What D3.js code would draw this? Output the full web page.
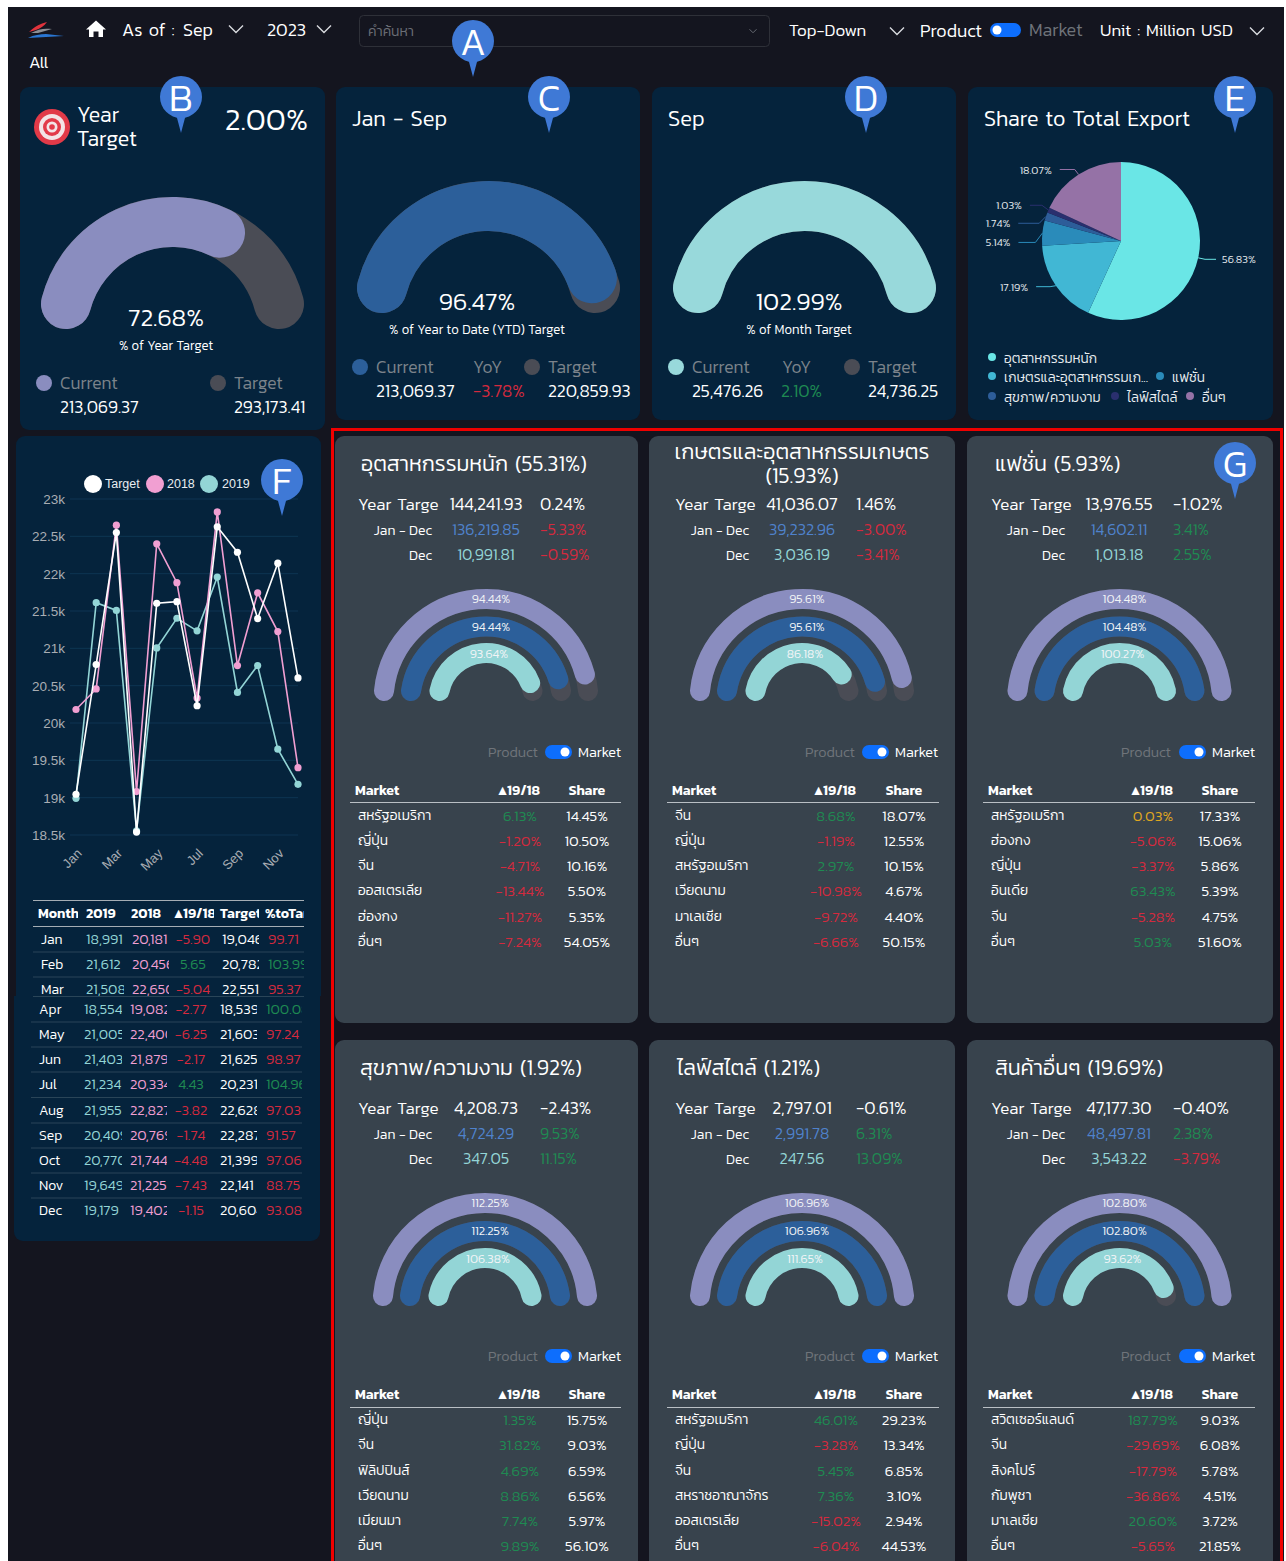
<!DOCTYPE html>
<html><head><meta charset="utf-8"><script src="https://cdn.jsdelivr.net/npm/d3@7/dist/d3.min.js"></script>
<style>html,body{margin:0;padding:0;background:#fff;width:1286px;height:1561px;overflow:hidden}svg{display:block}text{font-family:Kanit,Prompt,Roboto,"Noto Sans Thai","Noto Sans",sans-serif;dominant-baseline:central}</style></head><body><div id="c"></div>
<script>
// ---------- data ----------
const months=["Jan","Feb","Mar","Apr","May","Jun","Jul","Aug","Sep","Oct","Nov","Dec"];
const v2019=[18991,21612,21508,18554,21005,21403,21234,21955,20409,20770,19649,19179];
const v2018=[20181,20456,22650,19082,22400,21879,20334,22827,20769,21744,21225,19402];
const vTarget=[19046,20782,22551,18539,21603,21625,20231,22628,22287,21399,22141,20604];
const diffPct=[-5.90,5.65,-5.04,-2.77,-6.25,-2.17,4.43,-3.82,-1.74,-4.48,-7.43,-1.15];
const toTarget=[99.71,103.99,95.37,100.08,97.24,98.97,104.96,97.03,91.57,97.06,88.75,93.08];
const yTicks=[18500,19000,19500,20000,20500,21000,21500,22000,22500,23000];
const xTicks=["Jan","Mar","May","Jul","Sep","Nov"];
const pieNames=["อุตสาหกรรมหนัก","เกษตรและอุตสาหกรรมเก...","แฟชั่น","สุขภาพ/ความงาม","ไลฟ์สไตล์","อื่นๆ"];
const pieValues=[56.83,17.19,5.14,1.74,1.03,18.07];
const pieColors=["#6ae6e6","#41b7d4","#2a8bba","#2d5d99","#2a2f6e","#9572a6"];
const pieLabelNudge=[0,-3,10,9,-2,1];
const pieLabelReach=[11,14,17,21,12,15];
const cardTitles=[["อุตสาหกรรมหนัก (55.31%)"],["เกษตรและอุตสาหกรรมเกษตร","(15.93%)"],["แฟชั่น (5.93%)"],["สุขภาพ/ความงาม (1.92%)"],["ไลฟ์สไตล์ (1.21%)"],["สินค้าอื่นๆ (19.69%)"]];
const yearTarget=["144,241.93","41,036.07","13,976.55","4,208.73","2,797.01","47,177.30"];
const yearPct=[0.24,1.46,-1.02,-2.43,-0.61,-0.40];
const ytdVal=["136,219.85","39,232.96","14,602.11","4,724.29","2,991.78","48,497.81"];
const ytdPct=[-5.33,-3.00,3.41,9.53,6.31,2.38];
const monVal=["10,991.81","3,036.19","1,013.18","347.05","247.56","3,543.22"];
const monPct=[-0.59,-3.41,2.55,11.15,13.09,-3.79];
const ringOuter=[94.44,95.61,104.48,112.25,106.96,102.80];
const ringMiddle=[94.44,95.61,104.48,112.25,106.96,102.80];
const ringInner=[93.64,86.18,100.27,106.38,111.65,93.62];
const marketNames=[["สหรัฐอเมริกา","ญี่ปุ่น","จีน","ออสเตรเลีย","ฮ่องกง","อื่นๆ"],["จีน","ญี่ปุ่น","สหรัฐอเมริกา","เวียดนาม","มาเลเซีย","อื่นๆ"],["สหรัฐอเมริกา","ฮ่องกง","ญี่ปุ่น","อินเดีย","จีน","อื่นๆ"],["ญี่ปุ่น","จีน","ฟิลิปปินส์","เวียดนาม","เมียนมา","อื่นๆ"],["สหรัฐอเมริกา","ญี่ปุ่น","จีน","สหราชอาณาจักร","ออสเตรเลีย","อื่นๆ"],["สวิตเซอร์แลนด์","จีน","สิงคโปร์","กัมพูชา","มาเลเซีย","อื่นๆ"]];
const marketDiff=[[6.13,-1.20,-4.71,-13.44,-11.27,-7.24],[8.68,-1.19,2.97,-10.98,-9.72,-6.66],[0.03,-5.06,-3.37,63.43,-5.28,5.03],[1.35,31.82,4.69,8.86,7.74,9.89],[46.01,-3.28,5.45,7.36,-15.02,-6.04],[187.79,-29.69,-17.79,-36.86,20.60,-5.65]];
const marketShare=[[14.45,10.50,10.16,5.50,5.35,54.05],[18.07,12.55,10.15,4.67,4.40,50.15],[17.33,15.06,5.86,5.39,4.75,51.60],[15.75,9.03,6.59,6.56,5.97,56.10],[29.23,13.34,6.85,3.10,2.94,44.53],[9.03,6.08,5.78,4.51,3.72,21.85]];
const gaugeFill=[67,96.47,102.99];
const gaugeLabels=["72.68%","96.47%","102.99%"];

// ---------- colours ----------
const BG="#14151f",DARK="#05233c",GREY="#38434d",RED="#d42a3e",GREEN="#1f8a52",TEAL="#93d5d6",PINK="#f19fd2",PURPLE="#8a8dbf",BLUE="#2c5f9a",TRACK="#4a4c55",MUTED="#7c838b";
const svg=d3.select("#c").append("svg").attr("width",1286).attr("height",1561);
const defs=svg.append("defs");
function T(x,y,s,o={}){const sz=o.size||14;const t=(o.g||svg).append("text").attr("x",x).attr("y",sz>=15.5?y-1:y).text(s).attr("font-size",sz).attr("word-spacing",sz>=16?2:0.3).attr("fill",o.fill||"#fff").attr("text-anchor",o.anchor||"start").attr("font-weight",o.weight||300);if(o.clip)t.attr("clip-path",`url(#${o.clip})`);return t;}
function R(x,y,w,h,f,r=0){return svg.append("rect").attr("x",x).attr("y",y).attr("width",w).attr("height",h).attr("fill",f).attr("rx",r);}
function chev(x,y,s=7,c="#d8dade",sw=1.4){svg.append("path").attr("d",d3.line()([[x-s,y-s*0.5],[x,y+s*0.5],[x+s,y-s*0.5]])).attr("fill","none").attr("stroke",c).attr("stroke-width",sw);}
function pctColor(v){return v>0.5?GREEN:(v<0?RED:"#e0a81f");}
function pct(v){return v.toFixed(2)+"%";}
function toggle(x,y,w,h,right){R(x,y,w,h,"#0d6efd",h/2);svg.append("circle").attr("cx",right?x+w-h/2:x+h/2).attr("cy",y+h/2).attr("r",h/2-2.5).attr("fill","#fff");}

// arc through top & bottom extents, rounded caps
function gauge(cx,W,w,top,bottom,val,col){
  const H=bottom-top-w,A=W-w/2,Rd=(A*A+H*H)/(2*H),th=Math.atan2(A,Rd-H),cy=top+w/2+Rd;
  const ang=d3.scaleLinear().domain([0,100]).range([-th,th]).clamp(true);
  const draw=(a0,a1,c)=>{const p=d3.path();p.arc(cx,cy,Rd,a0-Math.PI/2,a1-Math.PI/2);svg.append("path").attr("d",p.toString()).attr("fill","none").attr("stroke",c).attr("stroke-width",w).attr("stroke-linecap","round");};
  draw(ang(0),ang(100),TRACK);draw(ang(0),ang(val),col);
}
function pin(x,y,l){svg.append("path").attr("d",d3.line()([[x-4.5,y+19],[x,y+36],[x+4.5,y+19]])).attr("fill","#3f79d6");svg.append("circle").attr("cx",x).attr("cy",y).attr("r",21).attr("fill","#3f79d6");T(x,y+1,l,{size:38,anchor:"middle",weight:300});}

// ---------- frame ----------
R(8,7,1276,1554,BG);
// header
const logo=svg.append("g");
logo.append("path").attr("d","M29 32 C35 26 40 24 47 22 C44 26 41 28 36 30 Z").attr("fill","#e0333c");
logo.append("path").attr("d","M31 33 C38 29 44 28 52 29 L38 33 Z").attr("fill","#8d8f95");
logo.append("path").attr("d","M28 38 C34 35 40 34 46 34 L64 36 C52 37 40 37 28 38 Z").attr("fill","#2a76d2");
svg.append("path").attr("d","M96 20.5 L106 29.5 L103 29.5 L103 37 L98.5 37 L98.5 31.5 L93.5 31.5 L93.5 37 L89 37 L89 29.5 L86 29.5 Z").attr("fill","#fff");
T(122,30,"As of :",{size:18});T(183,30,"Sep",{size:18});chev(236,29);T(267,30,"2023",{size:18});chev(324,29);
svg.append("rect").attr("x",359.5).attr("y",15.5).attr("width",410).attr("height",31).attr("rx",4).attr("fill","none").attr("stroke","#2e3038");
T(368,31,"คำค้นหา",{size:14,fill:"#6b6e76"});chev(753,31,3.5,"#666a72",1);
T(789,31,"Top-Down",{size:17});chev(897,31);T(920,31,"Product",{size:18});toggle(990,23,31,14,false);T(1029,30,"Market",{size:18,fill:"#6f737a"});T(1100,31,"Unit : Million USD",{size:17});chev(1257,31);
T(29,63,"All",{size:17});

// top cards
R(20,87,305,343,DARK,9);R(336,87,304,333,DARK,9);R(652,87,304,333,DARK,9);R(968,87,305,333,DARK,9);
// target icon
[[18,"#e23a48"],[13,"#f3e4e6"],[9,"#e23a48"],[5.5,"#f3e4e6"],[2.8,"#e23a48"]].forEach(d=>svg.append("circle").attr("cx",52).attr("cy",127).attr("r",d[0]).attr("fill",d[1]));
T(77,115,"Year",{size:21.5});T(77,139,"Target",{size:21.5});T(308,120,"2.00%",{size:31,anchor:"end"});
T(352,119,"Jan - Sep",{size:22});T(668,119,"Sep",{size:22});T(984,119,"Share to Total Export",{size:21.7});
gauge(172.5,131.5,50,197,329,gaugeFill[0],PURPLE);gauge(488.5,131.5,50,181,313,gaugeFill[1],BLUE);gauge(804.5,131.5,50,181,313,gaugeFill[2],"#98d9db");
T(166,318,gaugeLabels[0],{size:25,anchor:"middle"});T(166,345,"% of Year Target",{size:13.2,anchor:"middle"});
T(477,302,gaugeLabels[1],{size:25,anchor:"middle"});T(477,329,"% of Year to Date (YTD) Target",{size:13.2,anchor:"middle"});
T(799,302,gaugeLabels[2],{size:25,anchor:"middle"});T(799,329,"% of Month Target",{size:13.2,anchor:"middle"});
function dot(x,y,c,r=8){svg.append("circle").attr("cx",x).attr("cy",y).attr("r",r).attr("fill",c);}
const LS=17.5;
dot(44,383,PURPLE);dot(218,383,TRACK);T(60,384,"Current",{size:LS,fill:MUTED});T(234,384,"Target",{size:LS,fill:MUTED});T(60,408,"213,069.37",{size:LS});T(234,408,"293,173.41",{size:LS});
dot(360,367,BLUE);dot(532,367,TRACK);T(376,368,"Current",{size:LS,fill:MUTED});T(473,368,"YoY",{size:LS,fill:MUTED});T(548,368,"Target",{size:LS,fill:MUTED});T(376,392,"213,069.37",{size:LS});T(473,392,"-3.78%",{size:LS,fill:RED});T(548,392,"220,859.93",{size:LS});
dot(676,367,"#98d9db");dot(852,367,TRACK);T(692,368,"Current",{size:LS,fill:MUTED});T(782,368,"YoY",{size:LS,fill:MUTED});T(868,368,"Target",{size:LS,fill:MUTED});T(692,392,"25,476.26",{size:LS});T(781,392,"2.10%",{size:LS,fill:GREEN});T(868,392,"24,736.25",{size:LS});

// pie
const pCx=1121,pCy=241,pR=79;
const pieG=svg.append("g").attr("transform",`translate(${pCx},${pCy})`);
const arcs=d3.pie().sort(null)(pieValues);
const pieArc=d3.arc().innerRadius(0).outerRadius(pR);
pieG.selectAll("path").data(arcs).join("path").attr("d",pieArc).attr("fill",(d,i)=>pieColors[i]);
arcs.forEach((d,i)=>{
  const m=(d.startAngle+d.endAngle)/2,sx=Math.sin(m)*pR,sy=-Math.cos(m)*pR,ex=Math.sin(m)*(pR+7),ey=-Math.cos(m)*(pR+7)+pieLabelNudge[i],right=sx>0,hx=ex+(right?1:-1)*pieLabelReach[i];
  pieG.append("path").attr("d",d3.line()([[sx,sy],[ex,ey],[hx,ey]])).attr("fill","none").attr("stroke",pieColors[i]).attr("stroke-width",1);
  T(hx+(right?6:-8),ey,pct(pieValues[i]),{g:pieG,size:11,anchor:right?"start":"end",fill:"#e8edf0"});
});
const pieLegendPos=[[992,357],[992,376],[1160,376],[992,396],[1115,396],[1190,396]];
pieNames.forEach((n,i)=>{dot(pieLegendPos[i][0],pieLegendPos[i][1],i==0?"#6ae6e6":pieColors[i],4);T(pieLegendPos[i][0]+12,pieLegendPos[i][1]+1,n,{size:13.6,fill:"#e8edf0"});});

// F card
R(16,436,305,560,DARK,9);R(16,980,305,16,DARK);R(14,996,306,245,DARK,9);R(14,996,306,20,DARK);
const y=d3.scaleLinear().domain([18500,23000]).range([835,499]);
const x=d3.scalePoint().domain(months).range([76,298]);
svg.append("g").selectAll("line").data(yTicks).join("line").attr("x1",70).attr("x2",298).attr("y1",d=>y(d)).attr("y2",d=>y(d)).attr("stroke","#0e3552");
const yAxis=svg.append("g").attr("transform","translate(65,0)").call(d3.axisLeft(y).tickValues(yTicks).tickSize(0).tickPadding(0).tickFormat(d=>(d/1000)+"k"));
yAxis.select(".domain").remove();yAxis.selectAll("text").attr("font-size",13.5).attr("fill","#a9adb3").attr("dy",0).attr("font-weight",400).style("font-family","'Liberation Sans'");
const xAxis=svg.append("g").attr("transform","translate(0,848)").call(d3.axisBottom(x).tickValues(xTicks).tickSize(0).tickPadding(0));
xAxis.select(".domain").remove();xAxis.selectAll("text").attr("font-size",13).attr("fill","#a9adb3").attr("font-weight",400).attr("text-anchor","end").attr("dy",0).attr("transform","translate(3,3) rotate(-45)").style("font-family","'Liberation Sans'");
const line=d3.line().x((d,i)=>x(months[i])).y(d=>y(d));
[[v2019,TEAL],[v2018,PINK],[vTarget,"#fff"]].forEach(([s,c])=>{
  svg.append("path").attr("d",line(s)).attr("fill","none").attr("stroke",c).attr("stroke-width",1.6);
  svg.append("g").selectAll("circle").data(s).join("circle").attr("cx",(d,i)=>x(months[i])).attr("cy",d=>y(d)).attr("r",3.6).attr("fill",c);
});
[[93,"#fff","Target",105],[155,PINK,"2018",167],[209,TEAL,"2019",222]].forEach(d=>{dot(d[0],484,d[1],9);T(d[3],484,d[2],{size:12.5,weight:400,fill:"#e8edf0"}).style("font-family","'Liberation Sans'");});

// F table
function clip(id,x0,x1){defs.append("clipPath").attr("id",id).append("rect").attr("x",x0).attr("y",880).attr("width",x1-x0).attr("height",360);}
[0,-2].forEach((o,k)=>{clip("cM"+k,30+o,78+o);clip("c19"+k,84+o,124+o);clip("c18"+k,130+o,169+o);clip("cD"+k,172+o,214+o);clip("cT"+k,218+o,259+o);clip("cP"+k,263+o,304+o);});
svg.append("line").attr("x1",33).attr("x2",304).attr("y1",900.5).attr("y2",900.5).attr("stroke","#a5adb4");
svg.append("line").attr("x1",33).attr("x2",304).attr("y1",926.5).attr("y2",926.5).attr("stroke","#a5adb4");
[["Month",38,"cM0"],["2019",86,"c190"],["2018",131,"c180"],["▲19/18",174,"cD0"],["Target",220,"cT0"],["%toTarget",265,"cP0"]].forEach(d=>T(d[1],913,d[0],{size:14,weight:600,clip:d[2]}));
const rowY=[939,964,989,1009,1034,1059,1084,1110,1135,1160,1185,1210];
months.forEach((m,i)=>{
  const k=i>=3?1:0,o=i>=3?-2:0,yy=rowY[i],fmt=d3.format(",");
  T(41+o,yy,m,{size:14});
  T(86+o,yy,fmt(v2019[i]),{size:14.5,fill:TEAL,clip:"c19"+k});
  T(132+o,yy,fmt(v2018[i]),{size:14.5,fill:PINK,clip:"c18"+k});
  T(193+o,yy,diffPct[i].toFixed(2),{size:14.5,anchor:"middle",fill:diffPct[i]>0?GREEN:RED,clip:"cD"+k});
  T(222+o,yy,fmt(vTarget[i]),{size:14.5,clip:"cT"+k});
  T(268+o,yy,toTarget[i].toFixed(2),{size:14.5,fill:toTarget[i]>=100?GREEN:RED,clip:"cP"+k});
  if(i<11)svg.append("line").attr("x1",33+o).attr("x2",304+o).attr("y1",i==2?996.5:(rowY[i]+rowY[i+1])/2+0.5).attr("y2",i==2?996.5:(rowY[i]+rowY[i+1])/2+0.5).attr("stroke","#2a4558");
});

// product cards
const colCard=[[335,303],[649,306],[967,306]];
const colX=[{year:358,lab:432,val:486,pc:540,g:486,pr:488,tg:545,mk:578,hd:355,ln0:350,ln1:621,nm:358,df:520,sh:587},
            {year:675,lab:749,val:802,pc:856,g:802,pr:805,tg:862,mk:895,hd:672,ln0:667,ln1:939,nm:675,df:836,sh:904},
            {year:991,lab:1065,val:1119,pc:1173,g:1119.5,pr:1121,tg:1179,mk:1212,hd:988,ln0:983,ln1:1255,nm:991,df:1153,sh:1220}];
const rowGeo=[{top:436,h:587,title:464,yr:[505,530,555],ring:[589,616.5,643,701],lab:[598,626,653],tog:752,hd:790,ln:802.5,rows:[815,840,865,890,916,941]},
              {top:1040,h:530,title:1068,yr:[1109,1134,1159],ring:[1193,1221,1248,1306],lab:[1202,1230,1258],tog:1356,hd:1394,ln:1407.5,rows:[1419,1444,1470,1495,1520,1545]}];
const titleX=[361,802,995,360,677,995];
cardTitles.forEach((t,i)=>{
  const c=colX[i%3],g=rowGeo[i<3?0:1],cc=colCard[i%3];
  R(cc[0],g.top,cc[1],g.h,GREY,9);
  if(t.length==2){T(titleX[i],g.title-12,t[0],{size:21.5,anchor:"middle"});T(titleX[i],g.title+12,t[1],{size:21.5,anchor:"middle"});}
  else T(titleX[i],g.title,t[0],{size:21.5});
  T(c.year,g.yr[0],"Year Targe",{size:17});T(c.val,g.yr[0],yearTarget[i],{size:17.5,anchor:"middle"});T(c.pc,g.yr[0],pct(yearPct[i]),{size:17.5});
  T(c.lab,g.yr[1],"Jan - Dec",{size:14,anchor:"end"});T(c.val,g.yr[1],ytdVal[i],{size:16,anchor:"middle",fill:"#4f82cc"});T(c.pc,g.yr[1],pct(ytdPct[i]),{size:16,fill:pctColor(ytdPct[i])});
  T(c.lab,g.yr[2],"Dec",{size:14,anchor:"end"});T(c.val,g.yr[2],monVal[i],{size:16,anchor:"middle",fill:TEAL});T(c.pc,g.yr[2],pct(monPct[i]),{size:16,fill:pctColor(monPct[i])});
  const cx=c.g-(i==3?1:0);
  gauge(cx,112,20,g.ring[0],g.ring[3],ringOuter[i],PURPLE);
  gauge(cx,85,20,g.ring[1],g.ring[3],ringMiddle[i],BLUE);
  gauge(cx,56.5,20,g.ring[2],g.ring[3],ringInner[i],TEAL);
  T(cx+5,g.lab[0],pct(ringOuter[i]),{size:12.5,anchor:"middle",fill:"#f2f4f6"});
  T(cx+5,g.lab[1],pct(ringMiddle[i]),{size:12.5,anchor:"middle",fill:"#f2f4f6"});
  T(cx+3,g.lab[2],pct(ringInner[i]),{size:12.5,anchor:"middle",fill:"#f2f4f6"});
  T(c.pr,g.tog,"Product",{size:14.5,fill:"#6f747a"});toggle(c.tg,g.tog-7,27,14,true);T(c.mk,g.tog,"Market",{size:14.5});
  T(c.hd,g.hd,"Market",{size:14,weight:600});T(c.df-1,g.hd,"▲19/18",{size:14,weight:600,anchor:"middle"});T(c.sh,g.hd,"Share",{size:14,weight:600,anchor:"middle"});
  svg.append("line").attr("x1",c.ln0).attr("x2",c.ln1).attr("y1",g.ln).attr("y2",g.ln).attr("stroke","#b9bfc4");
  marketNames[i].forEach((n,j)=>{const yy=g.rows[j];
    T(c.nm,yy,n,{size:13.8});T(c.df,yy,pct(marketDiff[i][j]),{size:15,anchor:"middle",fill:pctColor(marketDiff[i][j])});T(c.sh,yy,pct(marketShare[i][j]),{size:15,anchor:"middle"});
  });
});
// highlight frame
svg.append("rect").attr("x",332.5).attr("y",429.5).attr("width",949).attr("height",1140).attr("fill","none").attr("stroke","#f00000").attr("stroke-width",3);
// pins
[[473,41,"A"],[181,97,"B"],[549,97,"C"],[866,97,"D"],[1235,97,"E"],[282,480,"F"],[1235,463,"G"]].forEach(d=>pin(d[0],d[1],d[2]));
</script></body></html>
